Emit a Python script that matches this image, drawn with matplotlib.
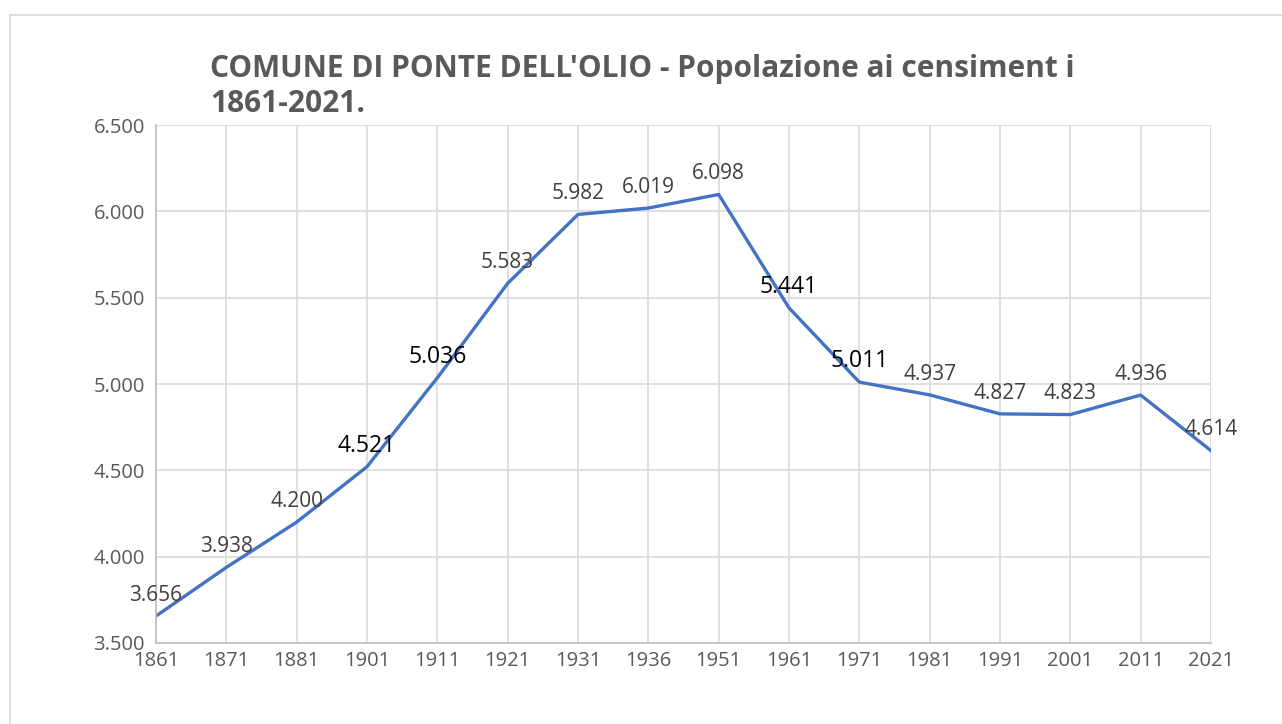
import matplotlib.pyplot as plt
from matplotlib.patches import Rectangle

years = ["1861", "1871", "1881", "1901", "1911", "1921", "1931", "1936",
         "1951", "1961", "1971", "1981", "1991", "2001", "2011", "2021"]
popolazione = [3656, 3938, 4200, 4521, 5036, 5583, 5982, 6019,
               6098, 5441, 5011, 4937, 4827, 4823, 4936, 4614]
# labels drawn bigger and in black in the original
black_labels = ["1901", "1911", "1961", "1971"]
y_ticks = [3500, 4000, 4500, 5000, 5500, 6000, 6500]


def fmt(v):
    return f"{v:,}".replace(",", ".")


plt.rcParams['font.family'] = ['Open Sans', 'DejaVu Sans']

fig = plt.figure(figsize=(12.82, 7.24), dpi=100)
ax = fig.add_axes([0.1217, 0.1119, 0.9446 - 0.1217, 0.8273 - 0.1119])

# outer chart border (only top/left visible in the reference)
fig.patches.append(Rectangle((10 / 1282, -0.1), 1.2, 1 - 15 / 724 + 0.1,
                             transform=fig.transFigure, fill=False,
                             edgecolor="#d9d9d9", linewidth=1.2))

x = list(range(len(years)))
ax.plot(x, popolazione, color="#4472C4", linewidth=2.4, solid_joinstyle="round")

for i, (yr, v) in enumerate(zip(years, popolazione)):
    if yr in black_labels:
        ax.annotate(fmt(v), (i, v), xytext=(0, 15), textcoords="offset points",
                    ha="center", va="center", fontsize=16.5, color="black")
    else:
        ax.annotate(fmt(v), (i, v), xytext=(0, 15), textcoords="offset points",
                    ha="center", va="center", fontsize=15, color="#404040")

ax.set_xlim(0, len(years) - 1)
ax.set_ylim(3500, 6500)
ax.set_xticks(x)
ax.set_xticklabels(years)
ax.set_yticks(y_ticks)
ax.set_yticklabels([fmt(v) for v in y_ticks])
ax.tick_params(axis="both", length=0, labelsize=14.5, colors="#595959")
ax.tick_params(axis="x", pad=6)
ax.tick_params(axis="y", pad=8)
ax.grid(True, color="#d9d9d9", linewidth=1.2)
ax.set_axisbelow(True)
for side in ["top", "right"]:
    ax.spines[side].set_visible(False)
for side in ["left", "bottom"]:
    ax.spines[side].set_color("#bfbfbf")
    ax.spines[side].set_linewidth(1.2)

title_lines = ["COMUNE DI PONTE DELL'OLIO - Popolazione ai censiment i", "1861-2021."]
for line, base in zip(title_lines, [77, 112]):
    fig.text(210 / 1282, 1 - base / 724, line,
             fontsize=21.5, fontweight="bold", color="#595959",
             ha="left", va="baseline")

fig.savefig("out.png", dpi=100)
